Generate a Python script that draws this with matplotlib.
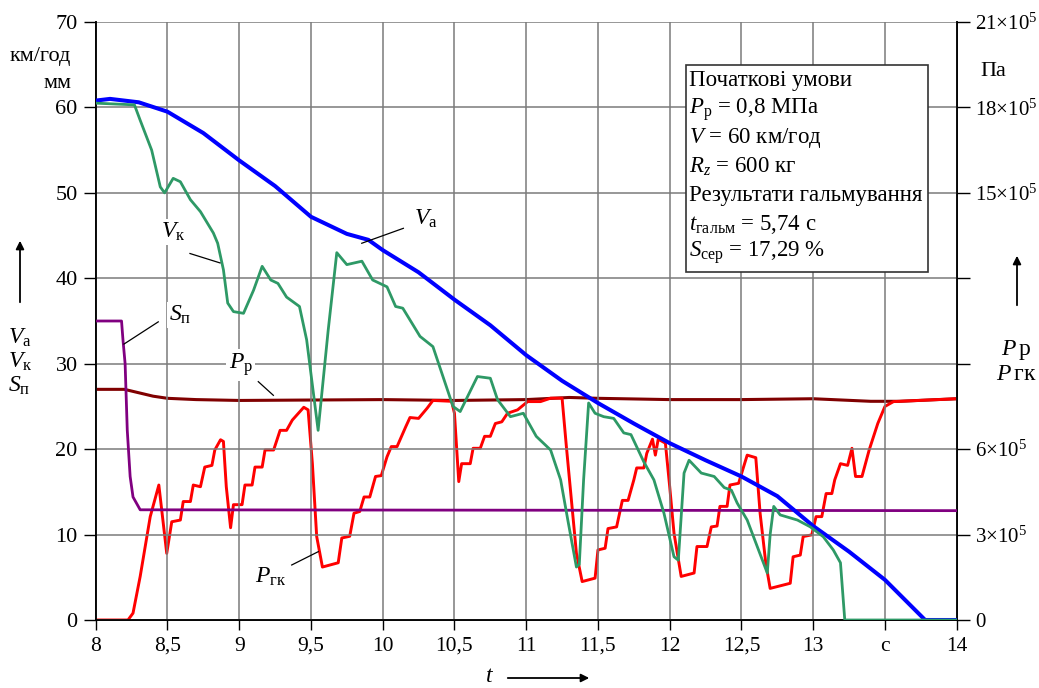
import matplotlib
matplotlib.use("Agg")
import matplotlib.pyplot as plt
from matplotlib.ticker import FixedLocator, FixedFormatter

plt.rcParams['font.family'] = ['Liberation Serif', 'DejaVu Serif']
plt.rcParams['mathtext.fontset'] = 'custom'
plt.rcParams['mathtext.rm'] = 'Liberation Serif'
plt.rcParams['mathtext.it'] = 'Liberation Serif:italic'

# ---------------- data ----------------
# Va, km/h
va_t = [8.0, 8.1, 8.2, 8.3, 8.5, 8.75, 9.0, 9.25, 9.5, 9.75, 9.9, 10.0, 10.25, 10.5,
        10.75, 11.0, 11.25, 11.5, 11.75, 12.0, 12.25, 12.5, 12.75, 13.0, 13.25, 13.5,
        13.78, 14.0]
va_v = [60.8, 61.0, 60.8, 60.6, 59.5, 57.0, 53.8, 50.8, 47.2, 45.2, 44.5, 43.3, 40.7, 37.5,
        34.5, 31.0, 28.0, 25.4, 23.0, 20.7, 18.7, 16.8, 14.5, 11.0, 8.0, 4.7, 0.0, 0.0]

# Vk, km/h
vk_t = [8.0, 8.27, 8.31, 8.39, 8.45, 8.48, 8.54, 8.59, 8.66, 8.73, 8.82, 8.85, 8.89, 8.92,
        8.96, 9.03, 9.10, 9.16, 9.22, 9.27, 9.33, 9.42, 9.47, 9.55, 9.62, 9.68, 9.75,
        9.855, 9.93, 10.03, 10.09, 10.14, 10.26, 10.35, 10.49, 10.54, 10.66, 10.75, 10.80,
        10.89, 10.98, 11.07, 11.17, 11.24, 11.29, 11.35, 11.37, 11.40, 11.435, 11.48, 11.54,
        11.61, 11.68, 11.73, 11.82, 11.89, 11.96, 12.03, 12.06, 12.10, 12.135, 12.22, 12.31,
        12.38, 12.43, 12.47, 12.54, 12.61, 12.68, 12.70, 12.725, 12.77, 12.89, 12.98, 13.07,
        13.14, 13.19, 13.22, 14.0]
vk_v = [60.5, 60.3, 58.5, 55.0, 50.7, 50.0, 51.7, 51.3, 49.2, 47.8, 45.3, 44.1, 41.0, 37.1,
        36.1, 35.9, 38.6, 41.4, 39.8, 39.4, 37.8, 36.7, 32.8, 22.2, 33.9, 43.0, 41.6,
        42.0, 39.8, 39.0, 36.7, 36.5, 33.2, 32.0, 25.0, 24.4, 28.5, 28.3, 25.8,
        23.8, 24.2, 21.5, 19.9, 16.4, 11.7, 6.2, 6.5, 16.4, 25.4, 24.2, 23.8,
        23.6, 21.9, 21.7, 18.5, 16.4, 12.5, 7.4, 7.0, 17.2, 18.7, 17.2, 16.8,
        15.5, 15.2, 13.7, 11.7, 8.6, 5.5, 10.0, 13.3, 12.3, 11.7, 10.9, 9.75,
        8.2, 6.7, 0.0, 0.0]

# Sp, %
sp_t = [8.0, 8.18, 8.19, 8.205, 8.22, 8.24, 8.26, 8.31, 14.0]
sp_v = [35.0, 35.0, 32.8, 30.0, 22.2, 16.8, 14.4, 12.9, 12.8]

# Pp, x10^5 Pa
pp_t = [8.0, 8.2, 8.3, 8.4, 8.5, 8.7, 9.0, 10.0, 10.5, 11.0, 11.3, 11.5, 12.0, 12.5, 13.0,
        13.4, 13.6, 14.0]
pp_v = [8.10, 8.10, 7.98, 7.86, 7.785, 7.74, 7.71, 7.74, 7.71, 7.74, 7.815, 7.785, 7.74,
        7.74, 7.77, 7.68, 7.68, 7.77]

# Pgk, x10^5 Pa
pg_t = [8.0, 8.225, 8.26, 8.31, 8.38, 8.44, 8.495, 8.53, 8.59, 8.61, 8.66, 8.68, 8.73, 8.76,
        8.81, 8.83, 8.87, 8.89, 8.91, 8.94, 8.96, 9.02, 9.04, 9.09, 9.11, 9.16, 9.18, 9.24,
        9.285, 9.33, 9.37, 9.45, 9.48, 9.51, 9.54, 9.58, 9.69, 9.715, 9.77, 9.80, 9.84, 9.87,
        9.91, 9.95, 9.99, 10.03, 10.06, 10.10, 10.16, 10.19, 10.25, 10.31, 10.35, 10.48,
        10.50, 10.53, 10.55, 10.61, 10.63, 10.68, 10.71, 10.75, 10.785, 10.83, 10.87, 10.94,
        11.01, 11.10, 11.17, 11.25, 11.28, 11.35, 11.39, 11.48, 11.50, 11.55, 11.57, 11.63,
        11.67, 11.71, 11.75, 11.77, 11.82, 11.84, 11.88, 11.90, 11.92, 11.97, 12.00, 12.03,
        12.08, 12.17, 12.19, 12.26, 12.29, 12.33, 12.35, 12.40, 12.42, 12.48, 12.54, 12.60,
        12.63, 12.67, 12.70, 12.84, 12.86, 12.91, 12.93, 12.99, 13.02, 13.06, 13.09, 13.13,
        13.15, 13.19, 13.24, 13.27, 13.295, 13.34, 13.39, 13.45, 13.50, 13.56, 14.0]
pg_v = [0.0, 0.0, 0.24, 1.53, 3.63, 4.74, 2.34, 3.45, 3.51, 4.16, 4.16, 4.74, 4.68, 5.37,
        5.43, 5.97, 6.33, 6.27, 4.68, 3.24, 4.05, 4.05, 4.74, 4.74, 5.37, 5.37, 5.97, 5.97,
        6.66, 6.66, 7.02, 7.47, 7.38, 5.49, 2.93, 1.86, 2.01, 2.88, 2.94, 3.75, 3.81, 4.32,
        4.32, 5.04, 5.07, 5.73, 6.09, 6.09, 6.78, 7.11, 7.08, 7.44, 7.71, 7.68,
        7.26, 4.86, 5.49, 5.49, 6.03, 6.03, 6.45, 6.45, 6.90, 6.96, 7.26, 7.38,
        7.67, 7.67, 7.79, 7.79, 6.09, 2.34, 1.35, 1.47, 2.46, 2.52, 3.21, 3.27,
        4.20, 4.20, 4.92, 5.34, 5.34, 5.85, 6.35, 5.79, 6.35, 6.21, 4.68, 3.05,
        1.53, 1.65, 2.58, 2.58, 3.27, 3.30, 3.99, 3.99, 4.74, 4.80, 5.79, 5.70,
        3.75, 1.98, 1.11, 1.29, 2.22, 2.28, 2.93, 2.99, 3.63, 3.63, 4.44, 4.44,
        4.92, 5.49, 5.43, 6.03, 5.04, 5.04, 5.97, 6.90, 7.50, 7.67, 7.77]

x_ticks = [8, 8.5, 9, 9.5, 10, 10.5, 11, 11.5, 12, 12.5, 13, 13.5, 14]
x_labels = ['8', '8,5', '9', '9,5', '10', '10,5', '11', '11,5', '12', '12,5', '13', 'с', '14']
y_ticks = [0, 10, 20, 30, 40, 50, 60, 70]
y2_ticks = [0, 3, 6, 9, 12, 15, 18, 21]
y2_labels = ['0', r'3×10$^5$', r'6×10$^5$', '', '', r'15×10$^5$', r'18×10$^5$', r'21×10$^5$']

info_lines = ['Початкові умови',
              r'$P_{\mathrm{р}}$ = 0,8 МПа',
              r'$V$ = 60 км/год',
              r'$R_z$ = 600 кг',
              'Результати гальмування',
              r'$t_{\mathrm{гальм}}$ = 5,74 с',
              r'$S_{\mathrm{сер}}$ = 17,29 %']

# ---------------- figure ----------------
W, H = 1039, 688
fig = plt.figure(figsize=(W / 100, H / 100), dpi=100)
L, R, T, B = 95.7, 956.7, 22, 620
ax = fig.add_axes([L / W, 1 - B / H, (R - L) / W, (B - T) / H])
ax2 = ax.twinx()

grid_c = '#7a7a7a'
ax.set_xlim(8, 14)
ax.set_ylim(0, 70)
ax2.set_ylim(0, 21)
ax.set_xticks(x_ticks)
ax.set_xticklabels(x_labels, fontsize=15.5)
ax.set_yticks(y_ticks)
ax.set_yticklabels([str(v) for v in y_ticks], fontsize=16)
ax2.yaxis.set_major_locator(FixedLocator(y2_ticks))
ax2.yaxis.set_major_formatter(FixedFormatter(y2_labels))
ax2.tick_params(axis='y', labelsize=15, length=9, width=1, direction='out', pad=4)
ax.tick_params(axis='y', length=9, width=1, direction='out', pad=4)
ax.tick_params(axis='x', length=7, width=1, direction='out', pad=5)
ax.grid(True, color=grid_c, lw=1.1)
ax.set_axisbelow(True)
for a in (ax, ax2):
    a.spines['top'].set_visible(False)
    for s in ('left', 'right', 'bottom'):
        a.spines[s].set_linewidth(1.2)
ax.tick_params(axis='y', labelright=False)

# curves
ax.plot(sp_t, sp_v, color='#800080', lw=2.0, zorder=3)
ax.plot(va_t, va_v, color='#0000FF', lw=2.9, zorder=4)
ax.plot(vk_t, vk_v, color='#2E9966', lw=2.0, zorder=4)
ax2.plot(pp_t, pp_v, color='#800000', lw=2.2, zorder=3)
ax2.plot(pg_t, pg_v, color='#FF0000', lw=2.1, zorder=4)
ax.set_zorder(ax2.get_zorder() + 1)
ax.patch.set_visible(False)

# leader lines and curve labels
lab_fs = 17
def label(x, y, main, sub, lx, ly):
    ax.plot(lx, ly, color='black', lw=0.9, zorder=5)
    ax.text(x, y, r'$' + main + r'_{\mathrm{' + sub + r'}}$', fontsize=lab_fs,
            ha='center', va='center', zorder=6,
            bbox=dict(facecolor='white', edgecolor='none', pad=1.5))

label(10.3, 47.0, 'V', 'а', [9.854, 10.144], [44.1, 45.85])
label(8.54, 45.4, 'V', 'к', [8.657, 8.866], [42.9, 41.8])
label(8.59, 35.7, 'S', 'п', [8.436, 8.197], [34.9, 32.3])
label(9.01, 29.85, 'P', 'р', [9.133, 9.238], [27.9, 26.3])
label(9.22, 5.0, 'P', 'гк', [9.366, 9.551], [6.44, 8.0])

# info box
box_x0, box_y0, box_x1, box_y1 = 686, 65, 928, 272
fig.patches.append(plt.Rectangle((box_x0 / W, 1 - box_y1 / H), (box_x1 - box_x0) / W,
                                 (box_y1 - box_y0) / H, transform=fig.transFigure,
                                 facecolor='white', edgecolor='#333333', lw=1.2, zorder=5))
for i, line in enumerate(info_lines):
    fig.text(689 / W, 1 - (80.7 + 28.7 * i) / H, line, fontsize=16.5, ha='left', va='center',
             zorder=6)

# outside texts
fs = 16
fig.text(40 / W, 1 - 57 / H, 'км/год', fontsize=fs, ha='center', va='center')
fig.text(72 / W, 1 - 83 / H, 'мм', fontsize=fs, ha='right', va='center')
fig.text(8 / W, 1 - 338 / H, r'$V_{\mathrm{а}}$', fontsize=lab_fs, ha='left', va='center')
fig.text(8 / W, 1 - 362 / H, r'$V_{\mathrm{к}}$', fontsize=lab_fs, ha='left', va='center')
fig.text(8 / W, 1 - 386 / H, r'$S_{\mathrm{п}}$', fontsize=lab_fs, ha='left', va='center')
fig.text(993 / W, 1 - 72 / H, 'Па', fontsize=fs, ha='center', va='center')
fig.text(1016 / W, 1 - 350 / H, r'$P\,\mathrm{р}$', fontsize=lab_fs, ha='center', va='center')
fig.text(1016 / W, 1 - 375 / H, r'$P\,\mathrm{гк}$', fontsize=lab_fs, ha='center', va='center')
fig.text(490 / W, 1 - 676 / H, r'$t$', fontsize=lab_fs, ha='center', va='center')

arrow = dict(arrowstyle='-|>', color='black', lw=1.3, mutation_scale=12)
fig.patches.append(matplotlib.patches.FancyArrowPatch((20 / W, 1 - 305 / H), (20 / W, 1 - 238 / H),
                   transform=fig.transFigure, **arrow))
fig.patches.append(matplotlib.patches.FancyArrowPatch((1017 / W, 1 - 308 / H), (1017 / W, 1 - 253 / H),
                   transform=fig.transFigure, **arrow))
fig.patches.append(matplotlib.patches.FancyArrowPatch((505 / W, 1 - 678 / H), (592 / W, 1 - 678 / H),
                   transform=fig.transFigure, **arrow))

fig.savefig('out.png', dpi=100)
